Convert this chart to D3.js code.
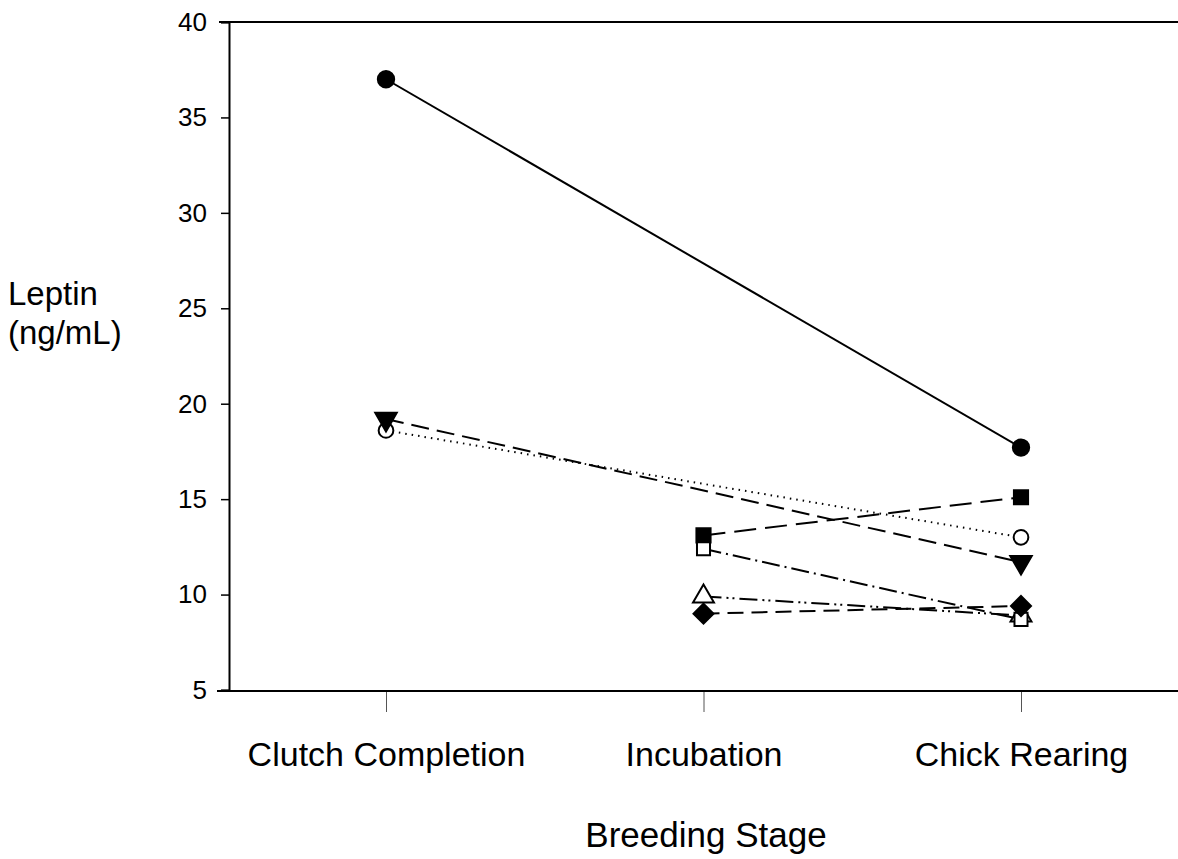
<!DOCTYPE html>
<html><head><meta charset="utf-8">
<script src="https://cdn.jsdelivr.net/npm/d3@7"></script>
<style>body{margin:0;background:#fff}svg{display:block}text{font-family:"Liberation Sans",Arial,sans-serif;fill:#000}</style>
</head><body>
<svg id="c" width="1178" height="859"></svg>
<script>
const stages = ["Clutch Completion", "Incubation", "Chick Rearing"];
const yTicks = [5, 10, 15, 20, 25, 30, 35, 40];
const filledCircle = [37.0, null, 17.7];
const filledTriangleDown = [19.2, null, 11.7];
const openCircle = [18.6, null, 13.0];
const filledSquare = [null, 13.1, 15.1];
const openSquare = [null, 12.4, 8.7];
const openTriangle = [null, 9.9, 8.9];
const filledDiamond = [null, 9.0, 9.4];

const triSym = {draw(ctx, size) {
  const h = Math.sqrt(size * 4 / Math.sqrt(3)); const r = h / Math.sqrt(3);
  ctx.moveTo(0, -r); ctx.lineTo(h / 2, r / 2); ctx.lineTo(-h / 2, r / 2); ctx.closePath();
}};
const diaSym = {draw(ctx, size) {
  const r = Math.sqrt(size / 2);
  ctx.moveTo(0, -r); ctx.lineTo(r, 0); ctx.lineTo(0, r); ctx.lineTo(-r, 0); ctx.closePath();
}};

const series = [
  {vals: openTriangle, sym: triSym, size: 190, fill: "#fff", dash: "18,5,2,4,2,5"},
  {vals: filledCircle, sym: d3.symbolCircle, size: 210, fill: "#000", dash: null},
  {vals: openCircle, sym: d3.symbolCircle, size: 170, fill: "#fff", dash: "1.5,5"},
  {vals: filledTriangleDown, sym: triSym, size: 200, fill: "#000", dash: "18,8", rot: 180},
  {vals: filledSquare, sym: d3.symbolSquare, size: 200, fill: "#000", dash: "22,9"},
  {vals: openSquare, sym: d3.symbolSquare, size: 170, fill: "#fff", dash: "18,5,2,5"},
  {vals: filledDiamond, sym: diaSym, size: 200, fill: "#000", dash: "16,8"}
];

const svg = d3.select("#c");
const x = d3.scalePoint().domain(stages).range([386, 1021]);
const y = d3.scaleLinear().domain([5, 40]).range([690, 22]);

svg.append("line").attr("x1", 219).attr("x2", 1178).attr("y1", 22).attr("y2", 22).attr("stroke", "#000").attr("stroke-width", 2);
svg.append("line").attr("x1", 217).attr("x2", 1178).attr("y1", 691).attr("y2", 691).attr("stroke", "#000").attr("stroke-width", 2);

const ya = svg.append("g").attr("transform", "translate(229,0)")
  .call(d3.axisLeft(y).tickValues(yTicks).tickSize(8).tickPadding(14).tickFormat(d3.format("d")));
ya.attr("font-size", null).attr("font-family", null);
ya.select(".domain").attr("stroke-width", 2);
ya.selectAll(".tick line").attr("stroke-width", 1.5);
ya.selectAll("text").style("font-size", "26px");

const xa = svg.append("g").attr("transform", "translate(0,692)")
  .call(d3.axisBottom(x).tickSize(20).tickPadding(30));
xa.attr("font-size", null).attr("font-family", null);
xa.select(".domain").remove();
xa.selectAll(".tick line").attr("stroke", "#555").attr("stroke-width", 1);
xa.selectAll("text").style("font-size", "34px");

svg.append("text").attr("x", 8).attr("y", 305).style("font-size", "33px").text("Leptin");
svg.append("text").attr("x", 8).attr("y", 344).style("font-size", "33px").text("(ng/mL)");
svg.append("text").attr("x", 706).attr("y", 847).attr("text-anchor", "middle").style("font-size", "35px").text("Breeding Stage");

const line = d3.line().x(d => x(d.s)).y(d => y(d.v));

series.forEach(s => {
  const pts = s.vals.map((v, i) => ({s: stages[i], v})).filter(d => d.v != null);
  svg.append("path").datum(pts).attr("d", line).attr("fill", "none").attr("stroke", "#000")
    .attr("stroke-width", 2).attr("stroke-dasharray", s.dash);
});
series.forEach(s => {
  const pts = s.vals.map((v, i) => ({s: stages[i], v})).filter(d => d.v != null);
  svg.selectAll(null).data(pts).enter().append("path")
    .attr("d", d3.symbol().type(s.sym).size(s.size))
    .attr("transform", d => `translate(${x(d.s)},${y(d.v)})` + (s.rot ? ` rotate(${s.rot})` : ""))
    .attr("fill", s.fill).attr("stroke", "#000").attr("stroke-width", 2);
});
</script>
</body></html>
